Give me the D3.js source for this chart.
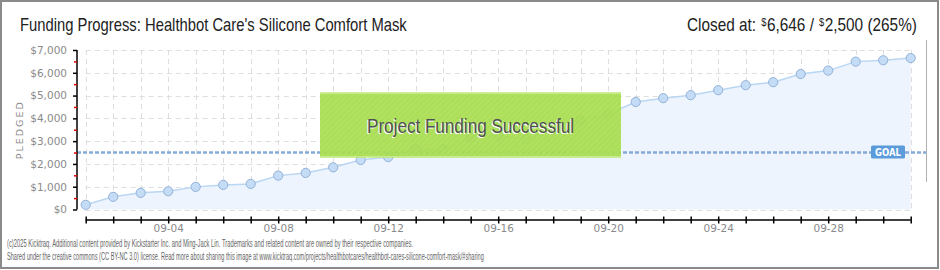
<!DOCTYPE html>
<html>
<head>
<meta charset="utf-8">
<script src="https://cdn.jsdelivr.net/npm/d3@7/dist/d3.min.js"></script>
<style>
  html, body { margin: 0; padding: 0; background: #fff; }
  svg { display: block; }
</style>
</head>
<body>
<svg id="chart" width="940" height="270"></svg>
<script>
// Daily pledged totals (USD), 2025-09-01 .. 2025-10-01
const dates = ["2025-09-01","2025-09-02","2025-09-03","2025-09-04","2025-09-05","2025-09-06","2025-09-07",
  "2025-09-08","2025-09-09","2025-09-10","2025-09-11","2025-09-12","2025-09-13","2025-09-14","2025-09-15",
  "2025-09-16","2025-09-17","2025-09-18","2025-09-19","2025-09-20","2025-09-21","2025-09-22","2025-09-23",
  "2025-09-24","2025-09-25","2025-09-26","2025-09-27","2025-09-28","2025-09-29","2025-09-30","2025-10-01"];
const pledged = [205, 556, 730, 800, 993, 1080, 1124, 1487, 1605, 1852, 2174, 2300, 2640, 2640, 3170,
  3237, 3090, 3500, 3930, 4195, 4720, 4887, 5018, 5237, 5455, 5587, 5945, 6096, 6490, 6550, 6646];
const goal = 2500;
const yTicks = [0, 1000, 2000, 3000, 4000, 5000, 6000, 7000];
const yMinorTicks = [500, 1500, 2500, 3500, 4500, 5500, 6500];
const xLabelDates = ["2025-09-04","2025-09-08","2025-09-12","2025-09-16","2025-09-20","2025-09-24","2025-09-28"];
const titleText = "Funding Progress: Healthbot Care's Silicone Comfort Mask";
const bannerText = "Project Funding Successful";
const footerLines = [
  "(c)2025 Kicktraq. Additional content provided by Kickstarter Inc. and Ming-Jack Lin. Trademarks and related content are owned by their respective companies.",
  "Shared under the creative commons (CC BY-NC 3.0) license. Read more about sharing this image at www.kicktraq.com/projects/healthbotcares/healthbot-cares-silicone-comfort-mask/#sharing"
];

const NARROW = "'Liberation Sans Narrow', 'Liberation Sans', sans-serif";
const PLAIN = "'DejaVu Sans', sans-serif";

const parse = d3.utcParse("%Y-%m-%d");
const data = dates.map((d, i) => ({ date: parse(d), value: pledged[i] }));
const labelSet = new Set(xLabelDates);
const fmtKey = d3.utcFormat("%Y-%m-%d");
const fmtLabel = d3.utcFormat("%m-%d");

const svg = d3.select("#chart");

// outer frame
svg.append("rect").attr("x", 1).attr("y", 1).attr("width", 937).attr("height", 267)
  .attr("fill", "#fff").attr("stroke", "#8a8a8a").attr("stroke-width", 2);

const x = d3.scaleUtc()
  .domain([data[0].date, data[data.length - 1].date])
  .range([85.7, 910.7]);
const y = d3.scaleLinear().domain([0, 7000]).range([209.5, 50]);

const defs = svg.append("defs");
const pat = defs.append("pattern").attr("id", "hatch").attr("patternUnits", "userSpaceOnUse")
  .attr("width", 4).attr("height", 4).attr("patternTransform", "rotate(45)");
pat.append("rect").attr("width", 4).attr("height", 4).attr("fill", "#a6dc4c");
pat.append("rect").attr("width", 2).attr("height", 4).attr("fill", "#acdf55");

// grid
const grid = svg.append("g").attr("stroke", "#dedede").attr("stroke-width", 1)
  .attr("stroke-dasharray", "5,4").attr("fill", "none");
grid.selectAll("line.v").data(data).join("line").attr("class", "v")
  .attr("x1", d => Math.round(x(d.date)) + 0.5).attr("x2", d => Math.round(x(d.date)) + 0.5)
  .attr("y1", y(7000)).attr("y2", y(0));
grid.selectAll("line.h").data(yTicks).join("line").attr("class", "h")
  .attr("x1", x.range()[0]).attr("x2", x.range()[1])
  .attr("y1", d => Math.round(y(d)) + 0.5).attr("y2", d => Math.round(y(d)) + 0.5);

// faint right divider
svg.append("line").attr("x1", 926.5).attr("x2", 926.5).attr("y1", 40).attr("y2", 182)
  .attr("stroke", "#b0b0b0").attr("stroke-width", 1);

// area + line
const area = d3.area().x(d => x(d.date)).y0(y(0)).y1(d => y(d.value));
const line = d3.line().x(d => x(d.date)).y(d => y(d.value));
svg.append("path").datum(data).attr("d", area).attr("fill", "#edf4fd");
svg.append("path").datum(data).attr("d", line).attr("fill", "none")
  .attr("stroke", "#b9d6f3").attr("stroke-width", 1.5);

// goal line
svg.append("line").attr("x1", 77).attr("x2", 926).attr("y1", y(goal)).attr("y2", y(goal))
  .attr("stroke", "#86aad6").attr("stroke-width", 2.5).attr("stroke-dasharray", "4,2");

// points
svg.append("g").selectAll("circle").data(data).join("circle")
  .attr("cx", d => x(d.date)).attr("cy", d => y(d.value)).attr("r", 4.6)
  .attr("fill", "#c4dcf6").attr("stroke", "#93b2d8").attr("stroke-width", 1);

// goal tag
const gx = 871, gw = 34, gh = 13;
svg.append("rect").attr("x", gx).attr("y", y(goal) - 7).attr("width", gw).attr("height", gh)
  .attr("rx", 1.5).attr("fill", "#5b9bdc");
svg.append("text").attr("x", gx + gw / 2).attr("y", y(goal) + 3.8).attr("text-anchor", "middle")
  .style("font-family", PLAIN).style("font-size", "10px").style("font-weight", "bold")
  .attr("fill", "#fff").attr("textLength", 26).attr("lengthAdjust", "spacingAndGlyphs")
  .text("GOAL");

// y axis
const yAxis = svg.append("g").attr("transform", "translate(77,0)")
  .call(d3.axisLeft(y).tickValues(yTicks).tickSize(4).tickPadding(6)
    .tickFormat(d => "$" + d3.format(",")(d)));
yAxis.select(".domain").attr("stroke", "#000").attr("stroke-width", 1.5).attr("d", `M0,${y(7000)}V${y(0)}`);
yAxis.selectAll(".tick line").attr("stroke", "#000").attr("stroke-width", 1.5);
yAxis.selectAll(".tick text").attr("fill", "#8a8a8a")
  .style("font-family", PLAIN).style("font-size", "10.5px");
const yMinor = svg.append("g").attr("transform", "translate(77,0)")
  .call(d3.axisLeft(y).tickValues(yMinorTicks).tickSize(3).tickFormat(""));
yMinor.select(".domain").remove();
yMinor.selectAll(".tick line").attr("stroke", "#e00000").attr("stroke-width", 1.5);

// y axis title
svg.append("text").attr("transform", `translate(23,${y(3500)}) rotate(-90)`)
  .attr("text-anchor", "middle").attr("fill", "#8a8a8a")
  .style("font-family", PLAIN).style("font-size", "9.5px").style("letter-spacing", "2px")
  .text("PLEDGED");

// x axis
const xAxis = svg.append("g").attr("transform", "translate(0,220)")
  .call(d3.axisBottom(x).tickValues(data.map(d => d.date)).tickSize(0).tickPadding(5)
    .tickFormat(d => labelSet.has(fmtKey(d)) ? fmtLabel(d) : ""));
xAxis.select(".domain").attr("stroke", "#000").attr("stroke-width", 1.5)
  .attr("d", `M${x.range()[0]},0H${x.range()[1]}`);
xAxis.selectAll(".tick line").attr("stroke", "#000").attr("stroke-width", 1.5)
  .attr("y1", -3.5).attr("y2", 3.5);
xAxis.selectAll(".tick text").attr("fill", "#8a8a8a")
  .style("font-family", PLAIN).style("font-size", "10.5px");

// success banner
const bx = 320, by = 92.5, bw = 301, bh = 65;
svg.append("rect").attr("x", bx).attr("y", by).attr("width", bw).attr("height", bh)
  .attr("fill", "url(#hatch)").attr("opacity", 0.93);
svg.append("rect").attr("x", bx).attr("y", by).attr("width", bw).attr("height", 1.5)
  .attr("fill", "#c6ec8a");
svg.append("rect").attr("x", bx).attr("y", by + bh - 1.5).attr("width", bw).attr("height", 1.5)
  .attr("fill", "#c6ec8a");
[["#ffffff", -1, 1], ["#4e5257", 0, 0]].forEach(([c, dx, dy]) => {
  svg.append("text").attr("x", bx + bw / 2 + dx).attr("y", 133 + dy).attr("text-anchor", "middle")
    .style("font-family", NARROW).style("font-size", "21px")
    .attr("fill", c).attr("textLength", 207).attr("lengthAdjust", "spacingAndGlyphs")
    .text(bannerText);
});

// Draws a text that is squeezed horizontally to a given width
function fitText(parent, str, left, baseline, width, size, fill) {
  const g = parent.append("g");
  const t = g.append("text").attr("x", 0).attr("y", 0)
    .style("font-family", NARROW).style("font-size", size + "px").attr("fill", fill).text(str);
  const w = t.node().getComputedTextLength();
  g.attr("transform", `translate(${left},${baseline}) scale(${width / w},1)`);
  return g;
}

// titles
fitText(svg, titleText, 20, 31, 387, 18, "#222");

// "Closed at" summary, pieces laid out right to left then squeezed
const last = pledged[pledged.length - 1];
const pieces = [
  { t: "Closed at:", s: 18, dy: 0, gap: 6 },
  { t: "$", s: 11, dy: -5, gap: 0.5 },
  { t: d3.format(",")(last) + " /", s: 18, dy: 0, gap: 6 },
  { t: "$", s: 11, dy: -5, gap: 0.5 },
  { t: d3.format(",")(goal) + " (" + Math.floor(last / goal * 100) + "%)", s: 18, dy: 0, gap: 0 }
];
const cg = svg.append("g");
let cx = 0;
pieces.forEach(p => {
  const t = cg.append("text").attr("x", cx).attr("y", p.dy)
    .style("font-family", NARROW).style("font-size", p.s + "px").attr("fill", "#222").text(p.t);
  cx += t.node().getComputedTextLength() + p.gap;
});
cg.attr("transform", `translate(687,31) scale(${230 / cx},1)`);

// footer
footerLines.forEach((str, i) =>
  fitText(svg, str, 7, 246.5 + i * 13.5, i === 0 ? 406 : 477, 11.5, "#666"));
</script>
</body>
</html>
